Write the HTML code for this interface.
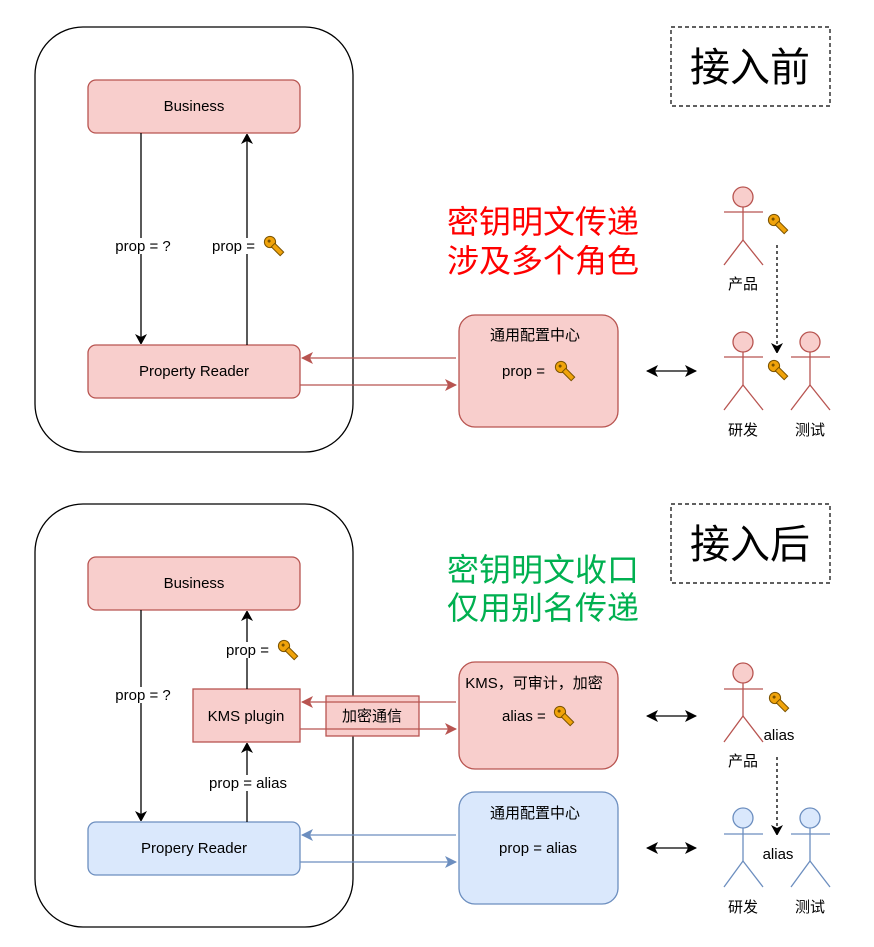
<!DOCTYPE html>
<html><head><meta charset="utf-8"><style>
html,body{margin:0;padding:0;background:#fff}
svg{display:block}
text{font-family:"Liberation Sans","Noto Sans CJK SC",sans-serif;fill:#000}
</style></head><body>
<svg width="874" height="947" viewBox="0 0 874 947" xmlns="http://www.w3.org/2000/svg">
<defs>
<marker id="ab" markerWidth="10" markerHeight="12" refX="9" refY="6" orient="auto" markerUnits="userSpaceOnUse"><path d="M0,0 L11,6 L0,12 L3,6 Z" fill="#000"/></marker>
<marker id="ar" markerWidth="12" markerHeight="12" refX="11" refY="6" orient="auto" markerUnits="userSpaceOnUse"><path d="M0,0 L12,6 L0,12 L3,6 Z" fill="#b85450"/></marker>
<marker id="abl" markerWidth="12" markerHeight="12" refX="11" refY="6" orient="auto" markerUnits="userSpaceOnUse"><path d="M0,0 L12,6 L0,12 L3,6 Z" fill="#6c8ebf"/></marker>
<marker id="as" markerWidth="12" markerHeight="12" refX="11" refY="6" orient="auto-start-reverse" markerUnits="userSpaceOnUse"><path d="M0,0 L12,6 L0,12 L3,6 Z" fill="#000"/></marker>
</defs>

<!-- TOP -->
<rect x="35" y="27" width="318" height="425" rx="48" fill="#fff" stroke="#000" stroke-width="1.3"/>
<rect x="88" y="80" width="212" height="53" rx="8" fill="#f8cecc" stroke="#b85450" stroke-width="1.3"/>
<text x="194" y="111" font-size="15" text-anchor="middle">Business</text>
<rect x="88" y="345" width="212" height="53" rx="8" fill="#f8cecc" stroke="#b85450" stroke-width="1.3"/>
<text x="194" y="376" font-size="15" text-anchor="middle">Property Reader</text>
<line x1="141" y1="133" x2="141" y2="343" stroke="#000" stroke-width="1.3" marker-end="url(#ab)"/>
<line x1="247" y1="345" x2="247" y2="135" stroke="#000" stroke-width="1.3" marker-end="url(#ab)"/>
<rect x="112" y="238" width="62" height="16" fill="#fff"/>
<text x="143" y="251" font-size="15" text-anchor="middle">prop = ?</text>
<rect x="210" y="238" width="76" height="16" fill="#fff"/>
<text x="212" y="251" font-size="15">prop =</text>
<g transform="translate(270,242) rotate(45) scale(1.25)"><circle cx="0" cy="0" r="4.5" fill="#f0a30a" stroke="#7a5200" stroke-width="0.8"/><rect x="3.5" y="-2" width="10" height="4" fill="#f0a30a" stroke="#7a5200" stroke-width="0.8"/><circle cx="-1" cy="0" r="1.2" fill="#7a5200"/></g>

<rect x="671" y="27" width="159" height="79" fill="#fff" stroke="#000" stroke-width="1.2" stroke-dasharray="4,3"/>
<text x="750" y="81" font-size="40" text-anchor="middle">接入前</text>
<text x="543" y="233" font-size="32" text-anchor="middle" style="fill:#ff0000">密钥明文传递</text>
<text x="543" y="272" font-size="32" text-anchor="middle" style="fill:#ff0000">涉及多个角色</text>

<rect x="459" y="315" width="159" height="112" rx="16" fill="#f8cecc" stroke="#b85450" stroke-width="1.3"/>
<text x="535" y="340" font-size="15" text-anchor="middle">通用配置中心</text>
<text x="502" y="376" font-size="15">prop =</text>
<g transform="translate(561,367) rotate(45) scale(1.25)"><circle cx="0" cy="0" r="4.5" fill="#f0a30a" stroke="#7a5200" stroke-width="0.8"/><rect x="3.5" y="-2" width="10" height="4" fill="#f0a30a" stroke="#7a5200" stroke-width="0.8"/><circle cx="-1" cy="0" r="1.2" fill="#7a5200"/></g>
<line x1="456" y1="358" x2="302" y2="358" stroke="#b85450" stroke-width="1.3" marker-end="url(#ar)"/>
<line x1="300" y1="385" x2="456" y2="385" stroke="#b85450" stroke-width="1.3" marker-end="url(#ar)"/>
<line x1="647" y1="371" x2="696" y2="371" stroke="#000" stroke-width="1.3" marker-start="url(#as)" marker-end="url(#as)"/>

<g stroke="#b85450" stroke-width="1.3" fill="none">
<circle cx="743" cy="197" r="10" fill="#f8cecc"/><line x1="743" y1="207" x2="743" y2="240"/><line x1="724" y1="212" x2="763" y2="212"/><line x1="743" y1="240" x2="724" y2="265"/><line x1="743" y1="240" x2="763" y2="265"/>
<circle cx="743" cy="342" r="10" fill="#f8cecc"/><line x1="743" y1="352" x2="743" y2="385"/><line x1="724" y1="357" x2="763" y2="357"/><line x1="743" y1="385" x2="724" y2="410"/><line x1="743" y1="385" x2="763" y2="410"/>
<circle cx="810" cy="342" r="10" fill="#f8cecc"/><line x1="810" y1="352" x2="810" y2="385"/><line x1="791" y1="357" x2="830" y2="357"/><line x1="810" y1="385" x2="791" y2="410"/><line x1="810" y1="385" x2="830" y2="410"/>
</g>
<text x="743" y="289" font-size="15" text-anchor="middle">产品</text>
<text x="743" y="435" font-size="15" text-anchor="middle">研发</text>
<text x="810" y="435" font-size="15" text-anchor="middle">测试</text>
<g transform="translate(774,220) rotate(45) scale(1.25)"><circle cx="0" cy="0" r="4.5" fill="#f0a30a" stroke="#7a5200" stroke-width="0.8"/><rect x="3.5" y="-2" width="10" height="4" fill="#f0a30a" stroke="#7a5200" stroke-width="0.8"/><circle cx="-1" cy="0" r="1.2" fill="#7a5200"/></g>
<g transform="translate(774,366) rotate(45) scale(1.25)"><circle cx="0" cy="0" r="4.5" fill="#f0a30a" stroke="#7a5200" stroke-width="0.8"/><rect x="3.5" y="-2" width="10" height="4" fill="#f0a30a" stroke="#7a5200" stroke-width="0.8"/><circle cx="-1" cy="0" r="1.2" fill="#7a5200"/></g>
<line x1="777" y1="245" x2="777" y2="352" stroke="#000" stroke-width="1.3" stroke-dasharray="3,3" marker-end="url(#ab)"/>

<!-- BOTTOM -->
<rect x="35" y="504" width="318" height="423" rx="48" fill="#fff" stroke="#000" stroke-width="1.3"/>
<rect x="88" y="557" width="212" height="53" rx="8" fill="#f8cecc" stroke="#b85450" stroke-width="1.3"/>
<text x="194" y="588" font-size="15" text-anchor="middle">Business</text>
<rect x="193" y="689" width="107" height="53" fill="#f8cecc" stroke="#b85450" stroke-width="1.3"/>
<text x="246" y="721" font-size="15" text-anchor="middle">KMS plugin</text>
<rect x="88" y="822" width="212" height="53" rx="8" fill="#dae8fc" stroke="#6c8ebf" stroke-width="1.3"/>
<text x="194" y="853" font-size="15" text-anchor="middle">Propery Reader</text>
<line x1="141" y1="610" x2="141" y2="820" stroke="#000" stroke-width="1.3" marker-end="url(#ab)"/>
<line x1="247" y1="689" x2="247" y2="612" stroke="#000" stroke-width="1.3" marker-end="url(#ab)"/>
<line x1="247" y1="822" x2="247" y2="744" stroke="#000" stroke-width="1.3" marker-end="url(#ab)"/>
<rect x="112" y="687" width="62" height="16" fill="#fff"/>
<text x="143" y="700" font-size="15" text-anchor="middle">prop = ?</text>
<rect x="224" y="642" width="76" height="16" fill="#fff"/>
<text x="226" y="655" font-size="15">prop =</text>
<g transform="translate(284,646) rotate(45) scale(1.25)"><circle cx="0" cy="0" r="4.5" fill="#f0a30a" stroke="#7a5200" stroke-width="0.8"/><rect x="3.5" y="-2" width="10" height="4" fill="#f0a30a" stroke="#7a5200" stroke-width="0.8"/><circle cx="-1" cy="0" r="1.2" fill="#7a5200"/></g>
<rect x="206" y="775" width="86" height="16" fill="#fff"/>
<text x="248" y="788" font-size="15" text-anchor="middle">prop = alias</text>

<rect x="671" y="504" width="159" height="79" fill="#fff" stroke="#000" stroke-width="1.2" stroke-dasharray="4,3"/>
<text x="750" y="558" font-size="40" text-anchor="middle">接入后</text>
<text x="543" y="581" font-size="32" text-anchor="middle" style="fill:#00b050">密钥明文收口</text>
<text x="543" y="619" font-size="32" text-anchor="middle" style="fill:#00b050">仅用别名传递</text>

<rect x="459" y="662" width="159" height="107" rx="16" fill="#f8cecc" stroke="#b85450" stroke-width="1.3"/>
<text x="534" y="688" font-size="15" text-anchor="middle">KMS，可审计，加密</text>
<text x="502" y="721" font-size="15">alias =</text>
<g transform="translate(560,712) rotate(45) scale(1.25)"><circle cx="0" cy="0" r="4.5" fill="#f0a30a" stroke="#7a5200" stroke-width="0.8"/><rect x="3.5" y="-2" width="10" height="4" fill="#f0a30a" stroke="#7a5200" stroke-width="0.8"/><circle cx="-1" cy="0" r="1.2" fill="#7a5200"/></g>
<rect x="326" y="696" width="93" height="40" fill="#f8cecc" stroke="#b85450" stroke-width="1.3"/>
<text x="372" y="721" font-size="15" text-anchor="middle">加密通信</text>
<line x1="456" y1="702" x2="302" y2="702" stroke="#b85450" stroke-width="1.3" marker-end="url(#ar)"/>
<line x1="300" y1="729" x2="456" y2="729" stroke="#b85450" stroke-width="1.3" marker-end="url(#ar)"/>

<rect x="459" y="792" width="159" height="112" rx="16" fill="#dae8fc" stroke="#6c8ebf" stroke-width="1.3"/>
<text x="535" y="818" font-size="15" text-anchor="middle">通用配置中心</text>
<text x="538" y="853" font-size="15" text-anchor="middle">prop = alias</text>
<line x1="456" y1="835" x2="302" y2="835" stroke="#6c8ebf" stroke-width="1.3" marker-end="url(#abl)"/>
<line x1="300" y1="862" x2="456" y2="862" stroke="#6c8ebf" stroke-width="1.3" marker-end="url(#abl)"/>

<line x1="647" y1="716" x2="696" y2="716" stroke="#000" stroke-width="1.3" marker-start="url(#as)" marker-end="url(#as)"/>
<line x1="647" y1="848" x2="696" y2="848" stroke="#000" stroke-width="1.3" marker-start="url(#as)" marker-end="url(#as)"/>

<g stroke="#b85450" stroke-width="1.3" fill="none">
<circle cx="743" cy="673" r="10" fill="#f8cecc"/><line x1="743" y1="683" x2="743" y2="716"/><line x1="724" y1="689" x2="763" y2="689"/><line x1="743" y1="716" x2="724" y2="742"/><line x1="743" y1="716" x2="763" y2="742"/>
</g>
<g stroke="#6c8ebf" stroke-width="1.3" fill="none">
<circle cx="743" cy="818" r="10" fill="#dae8fc"/><line x1="743" y1="828" x2="743" y2="861"/><line x1="724" y1="834" x2="763" y2="834"/><line x1="743" y1="861" x2="724" y2="887"/><line x1="743" y1="861" x2="763" y2="887"/>
<circle cx="810" cy="818" r="10" fill="#dae8fc"/><line x1="810" y1="828" x2="810" y2="861"/><line x1="791" y1="834" x2="830" y2="834"/><line x1="810" y1="861" x2="791" y2="887"/><line x1="810" y1="861" x2="830" y2="887"/>
</g>
<g transform="translate(775,698) rotate(45) scale(1.25)"><circle cx="0" cy="0" r="4.5" fill="#f0a30a" stroke="#7a5200" stroke-width="0.8"/><rect x="3.5" y="-2" width="10" height="4" fill="#f0a30a" stroke="#7a5200" stroke-width="0.8"/><circle cx="-1" cy="0" r="1.2" fill="#7a5200"/></g>
<text x="779" y="740" font-size="15" text-anchor="middle">alias</text>
<text x="743" y="766" font-size="15" text-anchor="middle">产品</text>
<line x1="777" y1="757" x2="777" y2="834" stroke="#000" stroke-width="1.3" stroke-dasharray="3,3" marker-end="url(#ab)"/>
<text x="778" y="859" font-size="15" text-anchor="middle">alias</text>
<text x="743" y="912" font-size="15" text-anchor="middle">研发</text>
<text x="810" y="912" font-size="15" text-anchor="middle">测试</text>
</svg>
</body></html>
